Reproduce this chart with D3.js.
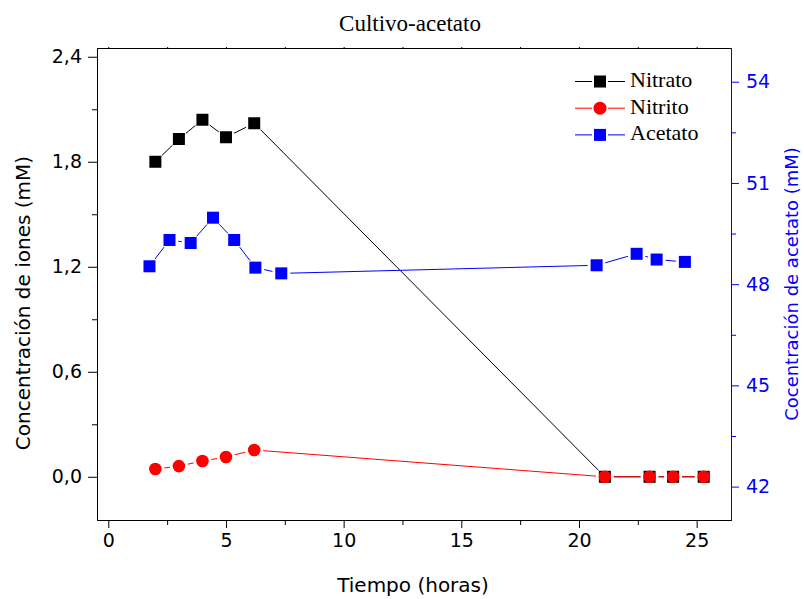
<!DOCTYPE html>
<html>
<head>
<meta charset="utf-8">
<title>Cultivo-acetato</title>
<script src="https://d3js.org/d3.v7.min.js"></script>
<style>
  body { margin: 0; background: #fff; }
  text { fill: #000; }
</style>
</head>
<body>
<script>
// data
const tiempoN = [2, 3, 4, 5, 6.2, 21.1, 23, 24, 25.3];
const nitrato = [1.80, 1.93, 2.04, 1.94, 2.02, 0, 0, 0, 0];
const nitrito = [0.044, 0.061, 0.09, 0.113, 0.153, 0, 0, 0, 0];
const tiempoA = [1.75, 2.6, 3.5, 4.45, 5.35, 6.25, 7.35, 20.75, 22.45, 23.3, 24.5];
const acetato = [48.53, 49.31, 49.22, 49.97, 49.31, 48.49, 48.32, 48.56, 48.90, 48.73, 48.66];

const xTicks = [0, 5, 10, 15, 20, 25];
const yTicks = [0, 0.6, 1.2, 1.8, 2.4];
const y2Ticks = [42, 45, 48, 51, 54];

const width = 804, height = 599;
const mLeft = 97, mRight = 731, mTop = 48, mBottom = 520;

const x = d3.scaleLinear().domain([-0.48, 26.46]).range([mLeft, mRight]);
const y = d3.scaleLinear().domain([-0.247, 2.45]).range([mBottom, mTop]);
const y2 = d3.scaleLinear().domain([41.01, 55]).range([mBottom, mTop]);

const svg = d3.select("body").append("svg")
    .attr("width", width).attr("height", height);

const comma = d => d3.format(".1f")(d).replace(".", ",");
const sans = "'DejaVu Sans', Verdana, sans-serif";
const serif = "'Liberation Serif', 'Times New Roman', serif";

// title
svg.append("text")
    .attr("x", 410).attr("y", 31)
    .attr("text-anchor", "middle")
    .style("font-family", serif).style("font-size", "23px")
    .text("Cultivo-acetato");

// axes
function styleAxis(g, color) {
    g.selectAll(".domain").attr("stroke", color);
    g.selectAll("line").attr("stroke", color);
    g.selectAll("text").style("font-family", sans).style("font-size", "19px").style("fill", color);
}

// minor ticks first
svg.append("g").attr("transform", `translate(0,${mBottom})`)
    .call(d3.axisBottom(x).tickValues([2.5, 7.5, 12.5, 17.5, 22.5]).tickSize(5).tickFormat("").tickSizeOuter(0))
    .call(g => styleAxis(g, "#000"));
svg.append("g").attr("transform", `translate(${mLeft},0)`)
    .call(d3.axisLeft(y).tickValues([0.3, 0.9, 1.5, 2.1]).tickSize(5).tickFormat("").tickSizeOuter(0))
    .call(g => styleAxis(g, "#000"));
svg.append("g").attr("transform", `translate(${mRight},0)`)
    .call(d3.axisRight(y2).tickValues([43.5, 46.5, 49.5, 52.5]).tickSize(5).tickFormat("").tickSizeOuter(0))
    .call(g => styleAxis(g, "#0000ff"));

svg.append("g").attr("transform", `translate(0,${mBottom})`)
    .call(d3.axisBottom(x).tickValues(xTicks).tickSize(8).tickPadding(6).tickSizeOuter(0))
    .call(g => styleAxis(g, "#000"));
svg.append("g").attr("transform", `translate(${mLeft},0)`)
    .call(d3.axisLeft(y).tickValues(yTicks).tickFormat(comma).tickSize(9).tickPadding(6).tickSizeOuter(0))
    .call(g => styleAxis(g, "#000"));
svg.append("g").attr("transform", `translate(${mRight},0)`)
    .call(d3.axisRight(y2).tickValues(y2Ticks).tickSize(8).tickPadding(7).tickSizeOuter(0))
    .call(g => styleAxis(g, "#0000ff"));

// top border
svg.append("g").attr("transform", `translate(0,${mTop})`)
    .call(d3.axisTop(x).tickValues([0, 2.5, 5, 7.5, 10, 12.5, 15, 17.5, 20, 22.5, 25]).tickSize(1).tickFormat("").tickSizeOuter(0))
    .call(g => styleAxis(g, "#000"));

// axis titles
svg.append("text")
    .attr("transform", "translate(23,303) rotate(-90)")
    .attr("text-anchor", "middle").attr("dominant-baseline", "central")
    .style("font-family", sans).style("font-size", "20px")
    .text("Concentración de iones (mM)");
svg.append("text")
    .attr("transform", "translate(791,284) rotate(-90)")
    .attr("text-anchor", "middle").attr("dominant-baseline", "central")
    .style("font-family", sans).style("font-size", "18px")
    .style("fill", "#0000ff")
    .text("Cocentración de acetato (mM)");
svg.append("text")
    .attr("x", 413).attr("y", 592)
    .attr("text-anchor", "middle")
    .style("font-family", sans).style("font-size", "20px")
    .text("Tiempo (horas)");

// lines with a gap around each marker
const gap = 9;
function gappedLine(xs, ys, yScale, color) {
    const pts = xs.map((d, i) => [x(d), yScale(ys[i])]);
    const segs = [];
    for (let i = 0; i < pts.length - 1; i++) {
        const [x1, y1] = pts[i], [x2, y2p] = pts[i + 1];
        const len = Math.hypot(x2 - x1, y2p - y1);
        if (len <= 2 * gap) continue;
        const ux = (x2 - x1) / len, uy = (y2p - y1) / len;
        segs.push([x1 + ux * gap, y1 + uy * gap, x2 - ux * gap, y2p - uy * gap]);
    }
    svg.append("g").selectAll("line").data(segs).join("line")
        .attr("x1", d => d[0]).attr("y1", d => d[1])
        .attr("x2", d => d[2]).attr("y2", d => d[3])
        .attr("stroke", color).attr("stroke-width", 1);
}

const sq = 12;
function squares(xs, ys, yScale, color) {
    svg.append("g").selectAll("rect").data(xs).join("rect")
        .attr("x", (d) => x(d) - sq / 2)
        .attr("y", (d, i) => yScale(ys[i]) - sq / 2)
        .attr("width", sq).attr("height", sq)
        .attr("fill", color);
}
function circles(xs, ys, yScale, color) {
    svg.append("g").selectAll("circle").data(xs).join("circle")
        .attr("cx", d => x(d))
        .attr("cy", (d, i) => yScale(ys[i]))
        .attr("r", 6.3)
        .attr("fill", color);
}

gappedLine(tiempoN, nitrato, y, "#000");
squares(tiempoN, nitrato, y, "#000");
gappedLine(tiempoN, nitrito, y, "#ff0000");
circles(tiempoN, nitrito, y, "#ff0000");
gappedLine(tiempoA, acetato, y2, "#0000ff");
squares(tiempoA, acetato, y2, "#0000ff");

// legend
const legend = [
    { name: "Nitrato", color: "#000", shape: "square" },
    { name: "Nitrito", color: "#ff0000", shape: "circle" },
    { name: "Acetato", color: "#0000ff", shape: "square" }
];
const lg = svg.append("g");
legend.forEach((d, i) => {
    const cy = 81.5 + i * 26.7, cx = 600;
    lg.append("line").attr("x1", 575).attr("x2", 592).attr("y1", cy).attr("y2", cy)
        .attr("stroke", d.color).attr("stroke-width", 1);
    lg.append("line").attr("x1", 608).attr("x2", 625).attr("y1", cy).attr("y2", cy)
        .attr("stroke", d.color).attr("stroke-width", 1);
    if (d.shape === "square") {
        lg.append("rect").attr("x", cx - 6).attr("y", cy - 6).attr("width", 12).attr("height", 12).attr("fill", d.color);
    } else {
        lg.append("circle").attr("cx", cx).attr("cy", cy).attr("r", 6.5).attr("fill", d.color);
    }
    lg.append("text").attr("x", 630).attr("y", cy + 5.5)
        .style("font-family", serif).style("font-size", "22px")
        .text(d.name);
});
</script>
</body>
</html>
